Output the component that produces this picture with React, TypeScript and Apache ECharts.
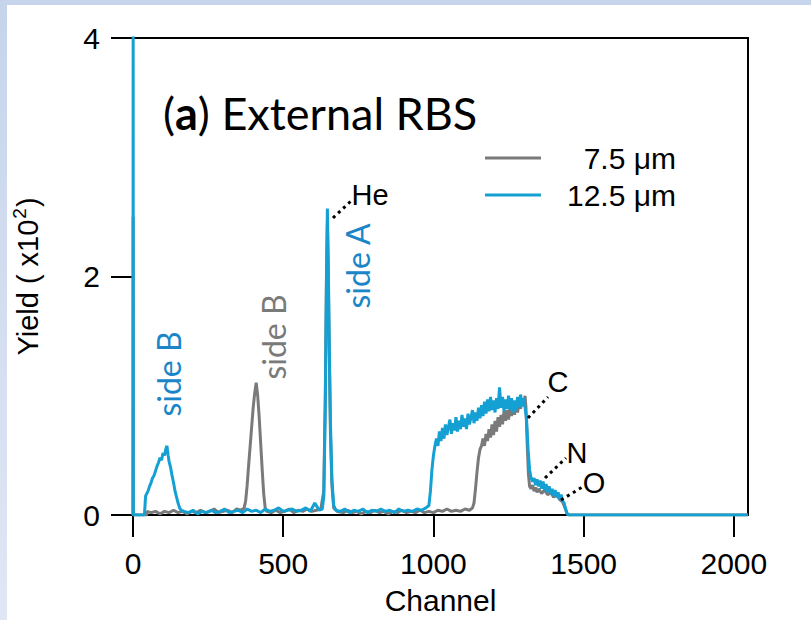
import React, { useEffect, useRef } from "react";
import * as echarts from "echarts";

// Channel / yield (x10^2) pairs
const yield75um: [number, number][] = [
  [0, 0], [0.5, 2.5], [1, 0], [45, 0], [47, 0.03], [60, 0.02], [75, 0.03], [90, 0.01], [105, 0.03], [120, 0.02],
  [135, 0.04], [150, 0.02], [165, 0.03], [180, 0.01], [195, 0.03], [210, 0.02], [225, 0.04], [240, 0.02],
  [255, 0.03], [270, 0.05], [285, 0.02], [300, 0.03], [315, 0.04], [330, 0.02], [345, 0.05], [360, 0.04],
  [370, 0.06], [375, 0.12], [380, 0.25], [385, 0.42], [390, 0.58], [395, 0.74], [400, 0.9], [405, 1.02],
  [410, 1.11], [415, 1.0], [420, 0.82], [425, 0.6], [430, 0.38], [435, 0.18], [440, 0.06], [445, 0.03],
  [460, 0.02], [475, 0.04], [490, 0.02], [505, 0.03], [520, 0.05], [535, 0.02], [550, 0.04], [565, 0.03],
  [580, 0.05], [595, 0.03], [610, 0.04], [625, 0.05], [635, 0.2], [640, 1.0], [644, 2.0], [647, 2.45],
  [650, 2.0], [653, 1.4], [657, 0.7], [662, 0.25], [668, 0.06], [680, 0.03], [700, 0.02], [715, 0.04],
  [730, 0.02], [745, 0.03], [760, 0.01], [775, 0.03], [790, 0.02], [805, 0.04], [820, 0.02], [835, 0.03],
  [850, 0.01], [865, 0.03], [880, 0.02], [895, 0.04], [910, 0.02], [925, 0.03], [940, 0.02], [955, 0.04],
  [970, 0.02], [985, 0.03], [1000, 0.02], [1015, 0.04], [1030, 0.03], [1045, 0.05], [1060, 0.03],
  [1075, 0.04], [1090, 0.03], [1105, 0.05], [1120, 0.04], [1130, 0.06], [1135, 0.1], [1140, 0.22],
  [1145, 0.36], [1150, 0.48], [1155, 0.55], [1160, 0.58], [1165, 0.64], [1170, 0.58], [1175, 0.68],
  [1180, 0.62], [1185, 0.72], [1190, 0.65], [1195, 0.76], [1200, 0.67], [1205, 0.79], [1210, 0.7],
  [1215, 0.82], [1220, 0.74], [1225, 0.84], [1230, 0.76], [1235, 0.87], [1240, 0.79], [1245, 0.88],
  [1250, 0.8], [1255, 0.9], [1260, 0.83], [1265, 0.92], [1270, 0.84], [1275, 0.94], [1280, 0.86],
  [1285, 0.95], [1290, 0.89], [1295, 0.98], [1300, 0.92], [1305, 1.0], [1308, 0.9], [1312, 0.6],
  [1316, 0.35], [1320, 0.24], [1325, 0.22], [1330, 0.25], [1335, 0.2], [1340, 0.23], [1345, 0.19],
  [1350, 0.22], [1360, 0.18], [1370, 0.21], [1380, 0.17], [1390, 0.19], [1400, 0.15], [1410, 0.17],
  [1420, 0.13], [1430, 0.11], [1438, 0.06], [1445, 0.01], [1450, 0], [2047, 0],
];

const yield125um: [number, number][] = [
  [0, 0], [0.5, 4.5], [1, 0], [38, 0], [40, 0.0], [42, 0.16], [50, 0.2], [55, 0.24], [60, 0.27], [65, 0.31],
  [70, 0.33], [75, 0.37], [80, 0.41], [85, 0.44], [90, 0.48], [95, 0.46], [100, 0.52], [105, 0.5],
  [110, 0.56], [113, 0.58], [117, 0.5], [120, 0.45], [125, 0.4], [130, 0.33], [135, 0.27], [140, 0.2],
  [145, 0.15], [150, 0.1], [155, 0.06], [160, 0.04], [170, 0.03], [185, 0.02], [200, 0.04], [215, 0.01],
  [230, 0.03], [245, 0.02], [260, 0.04], [275, 0.02], [290, 0.03], [305, 0.05], [320, 0.02], [335, 0.03],
  [350, 0.04], [365, 0.02], [380, 0.05], [395, 0.03], [410, 0.04], [425, 0.02], [440, 0.05], [455, 0.03],
  [470, 0.04], [485, 0.06], [500, 0.03], [515, 0.04], [530, 0.05], [545, 0.03], [560, 0.04], [575, 0.06],
  [590, 0.03], [605, 0.1], [620, 0.04], [630, 0.05], [635, 0.15], [640, 0.9], [644, 2.0], [647, 2.57],
  [650, 2.1], [653, 1.5], [657, 0.8], [662, 0.3], [668, 0.08], [675, 0.04], [690, 0.03], [705, 0.05],
  [720, 0.02], [735, 0.04], [750, 0.03], [765, 0.05], [780, 0.02], [795, 0.04], [810, 0.03], [825, 0.05],
  [840, 0.03], [855, 0.04], [870, 0.02], [885, 0.05], [900, 0.03], [915, 0.04], [930, 0.03], [945, 0.05],
  [960, 0.04], [975, 0.06], [985, 0.08], [990, 0.2], [995, 0.38], [1000, 0.5], [1005, 0.58], [1010, 0.64],
  [1015, 0.58], [1020, 0.7], [1025, 0.62], [1030, 0.73], [1035, 0.64], [1040, 0.76], [1045, 0.67],
  [1050, 0.74], [1055, 0.8], [1060, 0.68], [1065, 0.77], [1070, 0.71], [1075, 0.82], [1080, 0.7],
  [1085, 0.79], [1090, 0.72], [1095, 0.84], [1100, 0.74], [1105, 0.81], [1110, 0.72], [1115, 0.85],
  [1120, 0.76], [1125, 0.82], [1130, 0.88], [1135, 0.77], [1140, 0.86], [1145, 0.79], [1150, 0.9],
  [1155, 0.81], [1160, 0.92], [1165, 0.83], [1170, 0.95], [1175, 0.85], [1180, 0.97], [1185, 0.87],
  [1190, 0.99], [1195, 0.88], [1200, 0.96], [1205, 0.86], [1210, 0.98], [1215, 0.89], [1220, 1.07],
  [1225, 0.9], [1230, 0.99], [1235, 0.87], [1240, 0.97], [1245, 0.89], [1250, 1.0], [1255, 0.88],
  [1260, 0.98], [1265, 0.86], [1270, 0.96], [1275, 0.88], [1280, 0.99], [1285, 0.9], [1290, 1.01],
  [1295, 0.91], [1300, 0.98], [1305, 0.9], [1310, 0.8], [1315, 0.55], [1320, 0.38], [1325, 0.31],
  [1330, 0.28], [1335, 0.31], [1340, 0.25], [1345, 0.3], [1350, 0.24], [1355, 0.29], [1360, 0.22],
  [1365, 0.28], [1370, 0.21], [1375, 0.26], [1380, 0.19], [1385, 0.24], [1390, 0.18], [1395, 0.22],
  [1400, 0.16], [1405, 0.21], [1410, 0.15], [1415, 0.19], [1420, 0.13], [1425, 0.17], [1430, 0.12],
  [1435, 0.1], [1440, 0.05], [1445, 0.01], [1450, 0], [2047, 0],
];

const seriesNames = ["7.5 \u03bcm", "12.5 \u03bcm"];
const xTicks = [0, 500, 1000, 1500, 2000];
const yTicks = [0, 2, 4];

const GRAY = "#7a7a7a";
const BLUE = "#14a0d2";
const BLUE_TEXT = "#1a86c8";
const SANS = "'Liberation Sans', Arial, sans-serif";
const HUM = "Lato, 'Open Sans', sans-serif";

export default function App() {
  const ref = useRef<HTMLDivElement>(null);
  useEffect(() => {
    if (!ref.current) return;
    const chart = echarts.init(ref.current, null, { renderer: "svg" });
    const dotted = (x1: number, y1: number, x2: number, y2: number) => ({
      type: "line",
      shape: { x1, y1, x2, y2 },
      style: { stroke: "#000", lineWidth: 3, lineDash: [3, 4] },
      z: 10,
    });
    const label = (text: string, x: number, y: number, color: string, font: string, size: number, rotation = 0) => ({
      type: "text",
      x,
      y,
      rotation,
      style: { text, fill: color, font: `${size}px ${font}`, align: "center", verticalAlign: "middle" },
      z: 10,
    });
    chart.setOption({
      animation: false,
      backgroundColor: "#fff",
      grid: {
        left: 133,
        top: 38,
        width: 615,
        height: 479,
        show: true,
        borderColor: "#000",
        borderWidth: 2,
        backgroundColor: "transparent",
      },
      xAxis: {
        type: "value",
        min: 0,
        max: 2047,
        interval: 500,
        name: "Channel",
        nameLocation: "middle",
        nameGap: 70,
        nameTextStyle: { fontFamily: SANS, fontSize: 30, color: "#000" },
        axisLine: { show: true, onZero: false, lineStyle: { color: "#000", width: 2 } },
        axisTick: { show: true, length: 22, lineStyle: { color: "#000", width: 2 } },
        axisLabel: {
          margin: 33,
          fontFamily: SANS,
          fontSize: 30,
          color: "#000",
          showMaxLabel: false,
          formatter: (v: number) => (xTicks.includes(v) ? String(v) : ""),
        },
        splitLine: { show: false },
      },
      yAxis: {
        type: "value",
        min: 0,
        max: 4,
        interval: 2,
        name: "Yield ( x10{s|2})",
        nameLocation: "middle",
        nameGap: 88,
        nameTextStyle: {
          fontFamily: SANS,
          fontSize: 29,
          color: "#000",
          rich: {
            s: { fontFamily: SANS, fontSize: 19, color: "#000", padding: [0, 1, 16, 1] },
          },
        },
        axisLine: { show: true, lineStyle: { color: "#000", width: 2 } },
        axisTick: { show: true, length: 22, lineStyle: { color: "#000", width: 2 } },
        axisLabel: {
          margin: 33,
          fontFamily: SANS,
          fontSize: 30,
          color: "#000",
          formatter: (v: number) => (yTicks.includes(v) ? String(v) : ""),
        },
        splitLine: { show: false },
      },
      series: [
        {
          name: seriesNames[0],
          type: "line",
          data: yield75um,
          showSymbol: false,
          lineStyle: { color: GRAY, width: 3 },
          itemStyle: { color: GRAY },
          z: 2,
        },
        {
          name: seriesNames[1],
          type: "line",
          data: yield125um,
          showSymbol: false,
          lineStyle: { color: BLUE, width: 3 },
          itemStyle: { color: BLUE },
          z: 3,
        },
      ],
      graphic: [
        { type: "rect", shape: { x: 0, y: 0, width: 811, height: 5 }, style: { fill: "#c6d4ec" }, z: 20 },
        {
          type: "rect",
          shape: { x: 0, y: 0, width: 7, height: 620 },
          style: {
            fill: new echarts.graphic.LinearGradient(0, 0, 0, 1, [
              { offset: 0, color: "#c6d4ec" },
              { offset: 1, color: "#e0e7f4" },
            ]),
          },
          z: 20,
        },
        {
          type: "text",
          x: 163,
          y: 113,
          style: {
            text: "{p|(}{b|a}{p|)} External RBS",
            font: `45px ${HUM}`,
            fill: "#000",
            verticalAlign: "middle",
            rich: {
              p: { fontFamily: HUM, fontSize: 45, fill: "#000" },
              b: { fontFamily: HUM, fontSize: 45, fontWeight: "bold", fill: "#000" },
            },
          },
          z: 10,
        },
        // legend
        { type: "line", shape: { x1: 485, y1: 158, x2: 541, y2: 158 }, style: { stroke: GRAY, lineWidth: 3 }, z: 10 },
        { type: "line", shape: { x1: 485, y1: 195, x2: 541, y2: 195 }, style: { stroke: BLUE, lineWidth: 3 }, z: 10 },
        {
          type: "text", x: 676, y: 158,
          style: { text: seriesNames[0], font: `30px ${SANS}`, fill: "#000", align: "right", verticalAlign: "middle" }, z: 10,
        },
        {
          type: "text", x: 676, y: 195,
          style: { text: seriesNames[1], font: `30px ${SANS}`, fill: "#000", align: "right", verticalAlign: "middle" }, z: 10,
        },
        // element annotations
        label("He", 370, 195, "#000", SANS, 29),
        dotted(333, 218, 352, 200),
        label("C", 558, 382, "#000", SANS, 29),
        dotted(528, 418, 548, 397),
        label("N", 577, 453, "#000", SANS, 29),
        dotted(545, 478, 566, 458),
        label("O", 594, 483, "#000", SANS, 29),
        dotted(561, 500, 584, 486),
        label("side B", 168, 374, BLUE_TEXT, HUM, 32, Math.PI / 2),
        label("side B", 273, 337, GRAY, HUM, 32, Math.PI / 2),
        label("side A", 357, 266, BLUE_TEXT, HUM, 32, Math.PI / 2),
      ],
    });
    return () => chart.dispose();
  }, []);
  return <div ref={ref} style={{ position: "absolute", left: 0, top: 0, width: 811, height: 620 }} />;
}
